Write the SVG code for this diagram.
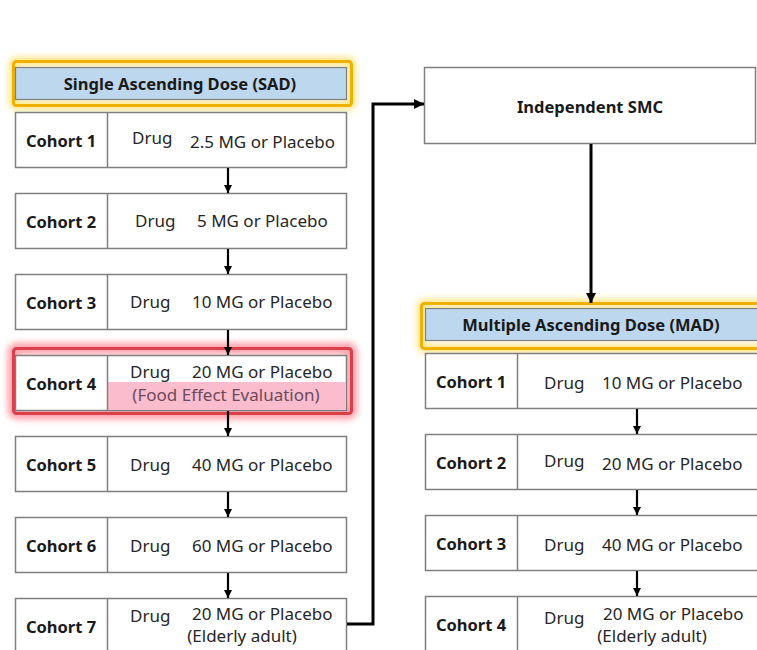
<svg xmlns="http://www.w3.org/2000/svg" width="757" height="650" viewBox="0 0 757 650">
  <style>
    .cell { fill: #ffffff; stroke: #7f7f7f; stroke-width: 1.5; }
    .div { stroke: #7f7f7f; stroke-width: 1.5; }
    .head { fill: #bdd7ee; stroke: #7f7f7f; stroke-width: 1.2; }
    .gold { fill: none; stroke: #efb000; stroke-width: 3; }
    .goldglow { fill: none; stroke: #ffe066; stroke-width: 9; opacity: 0.8; }
    .red { fill: none; stroke: #d9404c; stroke-width: 3; }
    .redglow { fill: none; stroke: #ff7a88; stroke-width: 12; opacity: 0.7; }
    .lbl { font-family: "Noto Sans", "Open Sans", "DejaVu Sans", sans-serif; font-weight: bold; font-size: 16.5px; fill: #1a1a1a; text-anchor: middle; }
    .hdr { font-family: "Noto Sans", "Open Sans", "DejaVu Sans", sans-serif; font-weight: bold; font-size: 16.5px; fill: #1a1a1a; text-anchor: middle; }
    .txt { font-family: "Noto Sans", "Open Sans", "DejaVu Sans", sans-serif; font-size: 17px; fill: #262626; }
    .mid { text-anchor: middle; }
    .note { fill: #6b4a5a; }
    .arr { stroke: #000; stroke-width: 2.2; fill: none; }
    .flow { stroke: #000; stroke-width: 3; fill: none; }
  </style>
  <defs>
    <filter id="soft" x="-10%" y="-40%" width="120%" height="180%">
      <feGaussianBlur stdDeviation="3"/>
    </filter>
    <marker id="tip" viewBox="0 0 10 10" refX="10" refY="5" markerWidth="8" markerHeight="8" markerUnits="userSpaceOnUse" orient="auto">
      <path d="M0,0 L10,5 L0,10 z" fill="#000"/>
    </marker>
    <marker id="tipBig" viewBox="0 0 10 10" refX="10" refY="5" markerWidth="3.5" markerHeight="3.5" orient="auto">
      <path d="M0,0 L10,5 L0,10 z" fill="#000"/>
    </marker>
  </defs>

  <!-- SAD header -->
  <g id="sad-header">
    <rect class="goldglow" x="13.5" y="61.5" width="338" height="44" rx="3" filter="url(#soft)"/>
    <rect class="gold" x="13.5" y="61.5" width="338" height="44" rx="3"/>
    <rect class="head" x="15.5" y="67.5" width="331" height="32"/>
    <text class="hdr" x="180" y="90">Single Ascending Dose (SAD)</text>
  </g>

  <!-- SAD cohorts -->
  <g id="sad-cohort-1">
    <rect class="cell" x="15.5" y="112.5" width="331" height="55"/>
    <line class="div" x1="107.5" y1="112.5" x2="107.5" y2="167.5"/>
    <text class="lbl" x="61" y="147">Cohort 1</text>
    <text class="txt" x="132" y="144">Drug</text>
    <text class="txt" x="190" y="148">2.5 MG or Placebo</text>
  </g>
  <g id="sad-cohort-2">
    <rect class="cell" x="15.5" y="193.5" width="331" height="55"/>
    <line class="div" x1="107.5" y1="193.5" x2="107.5" y2="248.5"/>
    <text class="lbl" x="61" y="228">Cohort 2</text>
    <text class="txt" x="135" y="227">Drug</text>
    <text class="txt" x="197" y="227">5 MG or Placebo</text>
  </g>
  <g id="sad-cohort-3">
    <rect class="cell" x="15.5" y="274.5" width="331" height="55"/>
    <line class="div" x1="107.5" y1="274.5" x2="107.5" y2="329.5"/>
    <text class="lbl" x="61" y="309">Cohort 3</text>
    <text class="txt" x="130" y="308">Drug</text>
    <text class="txt" x="192" y="308">10 MG or Placebo</text>
  </g>
  <g id="sad-cohort-4">
    <rect class="redglow" x="13.5" y="348.5" width="338" height="65" rx="3" filter="url(#soft)"/>
    <rect class="cell" x="15.5" y="355.5" width="331" height="55"/>
    <rect x="108" y="382" width="238" height="28" fill="#fbbccd"/>
    <line class="div" x1="107.5" y1="355.5" x2="107.5" y2="410.5"/>
    <rect class="red" x="13.5" y="348.5" width="338" height="65" rx="3"/>
    <text class="lbl" x="61" y="390">Cohort 4</text>
    <text class="txt" x="130" y="378">Drug</text>
    <text class="txt" x="192" y="378">20 MG or Placebo</text>
    <text class="txt note mid" x="226" y="401">(Food Effect Evaluation)</text>
  </g>
  <g id="sad-cohort-5">
    <rect class="cell" x="15.5" y="436.5" width="331" height="55"/>
    <line class="div" x1="107.5" y1="436.5" x2="107.5" y2="491.5"/>
    <text class="lbl" x="61" y="471">Cohort 5</text>
    <text class="txt" x="130" y="471">Drug</text>
    <text class="txt" x="192" y="471">40 MG or Placebo</text>
  </g>
  <g id="sad-cohort-6">
    <rect class="cell" x="15.5" y="517.5" width="331" height="55"/>
    <line class="div" x1="107.5" y1="517.5" x2="107.5" y2="572.5"/>
    <text class="lbl" x="61" y="552">Cohort 6</text>
    <text class="txt" x="130" y="552">Drug</text>
    <text class="txt" x="192" y="552">60 MG or Placebo</text>
  </g>
  <g id="sad-cohort-7">
    <rect class="cell" x="15.5" y="598.5" width="331" height="55"/>
    <line class="div" x1="107.5" y1="598.5" x2="107.5" y2="653.5"/>
    <text class="lbl" x="61" y="633">Cohort 7</text>
    <text class="txt" x="130" y="622">Drug</text>
    <text class="txt" x="192" y="620">20 MG or Placebo</text>
    <text class="txt mid" x="242" y="642">(Elderly adult)</text>
  </g>

  <!-- Safety monitoring committee -->
  <g id="smc">
    <rect class="cell" x="424.5" y="67.5" width="331" height="76"/>
    <text class="hdr" x="590" y="113">Independent SMC</text>
  </g>

  <!-- MAD header -->
  <g id="mad-header">
    <rect class="goldglow" x="421.5" y="303.5" width="345" height="45" rx="3" filter="url(#soft)"/>
    <rect class="gold" x="421.5" y="303.5" width="345" height="45" rx="3"/>
    <rect class="head" x="425.5" y="308.5" width="340" height="32"/>
    <text class="hdr" x="591" y="331">Multiple Ascending Dose (MAD)</text>
  </g>

  <!-- MAD cohorts -->
  <g id="mad-cohort-1">
    <rect class="cell" x="425.5" y="353.5" width="340" height="55"/>
    <line class="div" x1="517.5" y1="353.5" x2="517.5" y2="408.5"/>
    <text class="lbl" x="471" y="388">Cohort 1</text>
    <text class="txt" x="544" y="389">Drug</text>
    <text class="txt" x="602" y="389">10 MG or Placebo</text>
  </g>
  <g id="mad-cohort-2">
    <rect class="cell" x="425.5" y="434.5" width="340" height="55"/>
    <line class="div" x1="517.5" y1="434.5" x2="517.5" y2="489.5"/>
    <text class="lbl" x="471" y="469">Cohort 2</text>
    <text class="txt" x="544" y="467">Drug</text>
    <text class="txt" x="602" y="470">20 MG or Placebo</text>
  </g>
  <g id="mad-cohort-3">
    <rect class="cell" x="425.5" y="515.5" width="340" height="55"/>
    <line class="div" x1="517.5" y1="515.5" x2="517.5" y2="570.5"/>
    <text class="lbl" x="471" y="550">Cohort 3</text>
    <text class="txt" x="544" y="551">Drug</text>
    <text class="txt" x="602" y="551">40 MG or Placebo</text>
  </g>
  <g id="mad-cohort-4">
    <rect class="cell" x="425.5" y="596.5" width="340" height="55"/>
    <line class="div" x1="517.5" y1="596.5" x2="517.5" y2="651.5"/>
    <text class="lbl" x="471" y="631">Cohort 4</text>
    <text class="txt" x="544" y="624">Drug</text>
    <text class="txt" x="603" y="620">20 MG or Placebo</text>
    <text class="txt mid" x="652" y="642">(Elderly adult)</text>
  </g>

  <!-- Connectors -->
  <g id="connectors">
    <line class="arr" x1="228" y1="168" x2="228" y2="193" marker-end="url(#tip)"/>
    <line class="arr" x1="228" y1="249" x2="228" y2="274" marker-end="url(#tip)"/>
    <line class="arr" x1="228" y1="330" x2="228" y2="355" marker-end="url(#tip)"/>
    <line class="arr" x1="228" y1="411" x2="228" y2="436" marker-end="url(#tip)"/>
    <line class="arr" x1="228" y1="492" x2="228" y2="517" marker-end="url(#tip)"/>
    <line class="arr" x1="228" y1="573" x2="228" y2="598" marker-end="url(#tip)"/>
    <polyline class="flow" points="347,624 373,624 373,104 424,104" marker-end="url(#tipBig)"/>
    <line class="flow" x1="591" y1="144" x2="591" y2="303" marker-end="url(#tipBig)"/>
    <line class="arr" x1="637" y1="409" x2="637" y2="434" marker-end="url(#tip)"/>
    <line class="arr" x1="637" y1="490" x2="637" y2="515" marker-end="url(#tip)"/>
    <line class="arr" x1="637" y1="571" x2="637" y2="596" marker-end="url(#tip)"/>
  </g>
</svg>
